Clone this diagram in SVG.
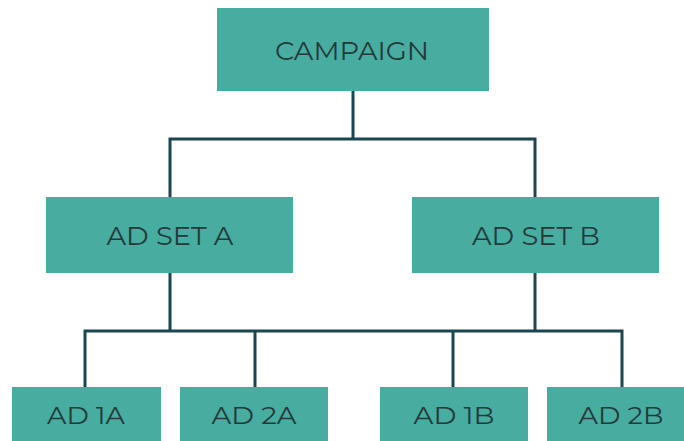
<svg xmlns="http://www.w3.org/2000/svg" width="684" height="441" viewBox="0 0 684 441">
<style>
.box{fill:#46ADA0;}
.lbl{font-family:"Montserrat","Open Sans","Liberation Sans",sans-serif;font-weight:400;fill:#25393A;text-anchor:middle;}
.big{font-size:26px;}
.small{font-size:25px;}
.conn{fill:none;stroke:#1A4750;stroke-width:3;stroke-linejoin:miter;stroke-linecap:butt;}
</style>
<rect width="684" height="441" fill="#FFFFFF"/>
<g id="connectors">
<path class="conn" d="M353 91 V139 M170 197 V139 H535 V197"/>
<path class="conn" d="M170 273 V331 M85 387 V331 H622 V387 M255 331 V387 M453 331 V387 M535 273 V331"/>
</g>
<g id="campaign">
<rect class="box" x="217" y="8" width="272" height="83"/>
<text class="lbl big" x="352" y="60" textLength="154" lengthAdjust="spacingAndGlyphs">CAMPAIGN</text>
</g>
<g id="adset-a">
<rect class="box" x="46" y="197" width="247" height="76"/>
<text class="lbl big" x="170" y="245" textLength="127" lengthAdjust="spacingAndGlyphs">AD SET A</text>
</g>
<g id="adset-b">
<rect class="box" x="412" y="197" width="247" height="76"/>
<text class="lbl big" x="536" y="245" textLength="128" lengthAdjust="spacingAndGlyphs">AD SET B</text>
</g>
<g id="ad-1a">
<rect class="box" x="12" y="387" width="149" height="54"/>
<text class="lbl small" x="86" y="424" textLength="78" lengthAdjust="spacingAndGlyphs">AD 1A</text>
</g>
<g id="ad-2a">
<rect class="box" x="180" y="387" width="148" height="54"/>
<text class="lbl small" x="254" y="424" textLength="85" lengthAdjust="spacingAndGlyphs">AD 2A</text>
</g>
<g id="ad-1b">
<rect class="box" x="380" y="387" width="148" height="54"/>
<text class="lbl small" x="454" y="424" textLength="81" lengthAdjust="spacingAndGlyphs">AD 1B</text>
</g>
<g id="ad-2b">
<rect class="box" x="547" y="387" width="137" height="54"/>
<text class="lbl small" x="621" y="424" textLength="85" lengthAdjust="spacingAndGlyphs">AD 2B</text>
</g>
</svg>
